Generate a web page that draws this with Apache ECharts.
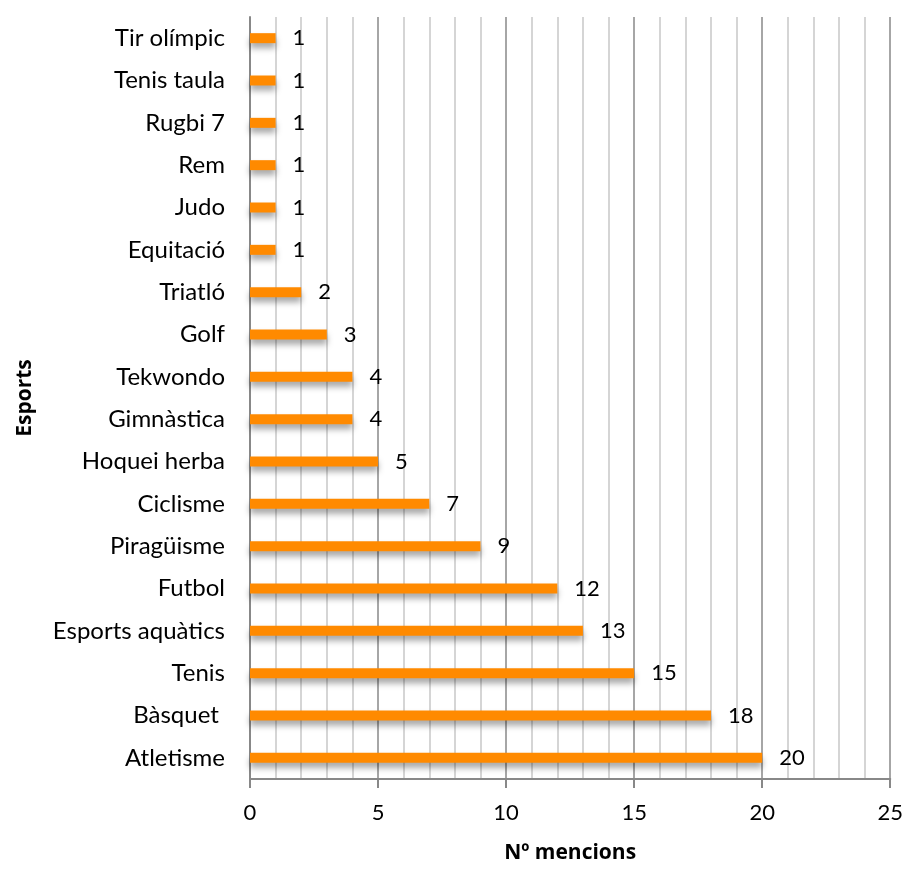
<!DOCTYPE html>
<html>
<head>
<meta charset="utf-8">
<script src="https://cdn.jsdelivr.net/npm/echarts@6/dist/echarts.min.js"></script>
<style>
  html, body { margin: 0; padding: 0; background: #fff; }
  #chart { width: 906px; height: 869px; }
</style>
</head>
<body>
<div id="chart"></div>
<script>
// bottom to top, as on the picture
const sports = [
  "Atletisme", "Bàsquet ", "Tenis", "Esports aquàtics", "Futbol", "Piragüisme",
  "Ciclisme", "Hoquei herba", "Gimnàstica", "Tekwondo", "Golf", "Triatló",
  "Equitació", "Judo", "Rem", "Rugbi 7", "Tenis taula", "Tir olímpic",
];
const mentions = [20, 18, 15, 13, 12, 9, 7, 5, 4, 4, 3, 2, 1, 1, 1, 1, 1, 1];

const font = "Lato, 'Open Sans', sans-serif";
const boldFont = "'Open Sans', Lato, sans-serif";

const chart = echarts.init(document.getElementById("chart"));

const option = {
  animation: false,
  grid: { left: 250, right: 15, top: 17, bottom: 87, containLabel: false },
  xAxis: {
    type: "value",
    min: 0,
    max: 25,
    interval: 5,
    name: "Nº mencions",
    nameLocation: "middle",
    nameGap: 64,
    nameTextStyle: { fontFamily: boldFont, fontSize: 21, fontWeight: "bold", color: "#000" },
    axisLine: { show: true, lineStyle: { color: "#888", width: 2 } },
    axisTick: { show: true, length: 9, lineStyle: { color: "#888", width: 2 } },
    axisLabel: { fontFamily: font, fontSize: 22, color: "#000", margin: 23 },
    splitLine: { show: true, lineStyle: { color: "#888", width: 1.5 } },
    minorTick: { show: false, splitNumber: 5 },
    minorSplitLine: { show: true, lineStyle: { color: "#c8c8c8", width: 1.5 } },
  },
  yAxis: {
    type: "category",
    data: sports,
    name: "Esports",
    nameLocation: "middle",
    nameGap: 214,
    nameRotate: 90,
    nameTextStyle: { fontFamily: boldFont, fontSize: 21, fontWeight: "bold", color: "#000" },
    axisLine: { show: true, lineStyle: { color: "#888", width: 2 } },
    axisTick: { show: false },
    axisLabel: { fontFamily: font, fontSize: 24, color: "#000", margin: 25 },
    splitLine: { show: false },
  },
  series: [
    {
      type: "bar",
      data: mentions,
      barWidth: 10,
      itemStyle: {
        color: "#ff8a00",
        shadowColor: "rgba(0,0,0,0.35)",
        shadowBlur: 6,
        shadowOffsetY: 5,
      },
      label: {
        show: true,
        position: "right",
        distance: 17,
        fontFamily: font,
        fontSize: 22,
        color: "#000",
      },
    },
  ],
};

chart.setOption(option);
</script>
</body>
</html>
